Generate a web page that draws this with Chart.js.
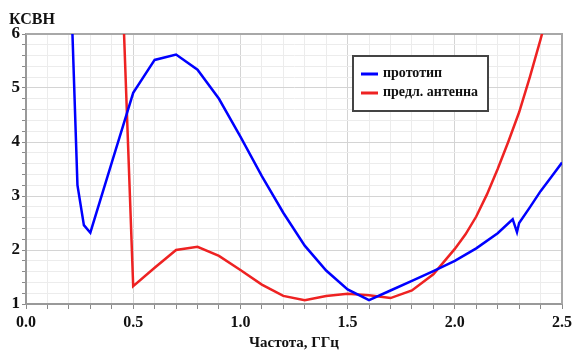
<!DOCTYPE html>
<html>
<head>
<meta charset="utf-8">
<script src="https://cdn.jsdelivr.net/npm/chart.js@4/dist/chart.umd.min.js"></script>
<style>
  html, body { margin: 0; padding: 0; background: #fff; }
  #wrap { width: 574px; height: 352px; }
</style>
</head>
<body>
<div id="wrap"><canvas id="vswrChart" width="574" height="352"></canvas></div>
<script>
// frequency, GHz / VSWR
let protoFreq = [0.2, 0.24, 0.27, 0.3, 0.4, 0.5, 0.6, 0.7, 0.8, 0.9, 1.0, 1.1, 1.2, 1.3, 1.4, 1.5, 1.6, 1.7, 1.8, 1.9, 2.0, 2.1, 2.2, 2.27, 2.29, 2.3, 2.35, 2.4, 2.45, 2.5];
let protoVswr = [8.0, 3.2, 2.46, 2.32, 3.62, 4.91, 5.52, 5.62, 5.34, 4.8, 4.1, 3.37, 2.69, 2.08, 1.62, 1.27, 1.07, 1.25, 1.43, 1.61, 1.8, 2.03, 2.31, 2.57, 2.33, 2.5, 2.79, 3.09, 3.35, 3.62];

let newFreq = [0.45, 0.5, 0.6, 0.7, 0.8, 0.9, 1.0, 1.1, 1.2, 1.3, 1.4, 1.5, 1.6, 1.7, 1.8, 1.9, 2.0, 2.05, 2.1, 2.15, 2.2, 2.25, 2.3, 2.35, 2.4, 2.45, 2.5];
let newVswr = [6.8, 1.33, 1.67, 2.0, 2.06, 1.89, 1.63, 1.36, 1.15, 1.07, 1.15, 1.19, 1.16, 1.11, 1.25, 1.55, 2.02, 2.29, 2.62, 3.03, 3.5, 4.01, 4.55, 5.2, 5.9, 6.65, 7.4];

let seriesNames = ['прототип', 'предл. антенна'];
let seriesColors = ['#0000ff', '#ee2222'];

let yTitle = 'КСВН';
let xTitle = 'Частота, ГГц';

function pairs(xs, ys) {
    return xs.map(function (x, i) { return { x: x, y: ys[i] }; });
}

function isWhole(v, step) {
    let k = v / step;
    return Math.abs(k - Math.round(k)) < 1e-6;
}

let serif = '"Liberation Serif", "Times New Roman", serif';

// frame, y caption and the boxed legend
let extras = {
    id: 'extras',
    beforeDatasetsDraw(chart) {
        let a = chart.chartArea, c = chart.ctx;
        c.save();
        c.strokeStyle = '#a8a8a8';
        c.lineWidth = 2;
        c.beginPath();
        c.moveTo(a.left, a.top);
        c.lineTo(a.right, a.top);
        c.lineTo(a.right, a.bottom);
        c.stroke();
        c.restore();
    },
    afterDraw(chart) {
        let c = chart.ctx;
        c.save();
        c.fillStyle = '#111';
        c.font = 'bold 16px ' + serif;
        c.textBaseline = 'alphabetic';
        c.textAlign = 'left';
        c.fillText(yTitle, 9, 24);

        // legend
        c.fillStyle = '#fff';
        c.fillRect(353, 56, 135, 55);
        c.strokeStyle = '#444';
        c.lineWidth = 2;
        c.strokeRect(353, 56, 135, 55);
        c.font = 'bold 14px ' + serif;
        c.textBaseline = 'middle';
        chart.data.datasets.forEach(function (ds, i) {
            let y = 73 + i * 19;
            c.strokeStyle = ds.borderColor;
            c.lineWidth = 3;
            c.beginPath();
            c.moveTo(361, y + 1);
            c.lineTo(378, y + 1);
            c.stroke();
            c.fillStyle = '#111';
            c.fillText(ds.label, 383, y);
        });
        c.restore();
    }
};

let ctx = document.getElementById('vswrChart');

var vswrChart = new Chart(ctx, {
    type: 'line',
    data: {
        datasets: [{
            label: seriesNames[0],
            data: pairs(protoFreq, protoVswr),
            borderColor: seriesColors[0],
            borderWidth: 2.5,
            pointRadius: 0,
            tension: 0
        }, {
            label: seriesNames[1],
            data: pairs(newFreq, newVswr),
            borderColor: seriesColors[1],
            borderWidth: 2.5,
            pointRadius: 0,
            tension: 0
        }]
    },
    options: {
        responsive: false,
        animation: false,
        layout: { padding: { left: 0, right: 12, top: 34, bottom: 0 } },
        plugins: {
            legend: { display: false },
            tooltip: { enabled: false }
        },
        scales: {
            x: {
                type: 'linear',
                min: 0,
                max: 2.5,
                afterFit: function (s) {
                    s.height = 48;
                    s.paddingLeft = 0;
                    s.paddingRight = 0;
                },
                ticks: {
                    stepSize: 0.1,
                    autoSkip: false,
                    maxRotation: 0,
                    padding: 4,
                    color: '#111',
                    font: { family: serif, size: 16, weight: 'bold' },
                    callback: function (v) { return isWhole(v, 0.5) ? v.toFixed(1) : ''; }
                },
                grid: {
                    color: function (c) { return isWhole(c.tick.value, 0.5) ? '#d4d4d4' : '#ececec'; },
                    tickColor: '#8a8a8a',
                    tickLength: 5
                },
                border: { color: '#999', width: 2 },
                title: {
                    display: true,
                    text: xTitle,
                    color: '#111',
                    font: { family: serif, size: 15, weight: 'bold' },
                    padding: { top: 2, bottom: 0 }
                }
            },
            y: {
                type: 'linear',
                min: 1,
                max: 6,
                afterFit: function (s) { s.width = 26; },
                ticks: {
                    stepSize: 0.2,
                    autoSkip: false,
                    padding: 2,
                    color: '#111',
                    font: { family: serif, size: 17, weight: 'bold' },
                    callback: function (v) { return isWhole(v, 1) ? String(Math.round(v)) : ''; }
                },
                grid: {
                    color: function (c) { return isWhole(c.tick.value, 1) ? '#d4d4d4' : '#ececec'; },
                    tickColor: '#8a8a8a',
                    tickLength: 4
                },
                border: { color: '#999', width: 2 }
            }
        }
    },
    plugins: [extras]
});
</script>
</body>
</html>
